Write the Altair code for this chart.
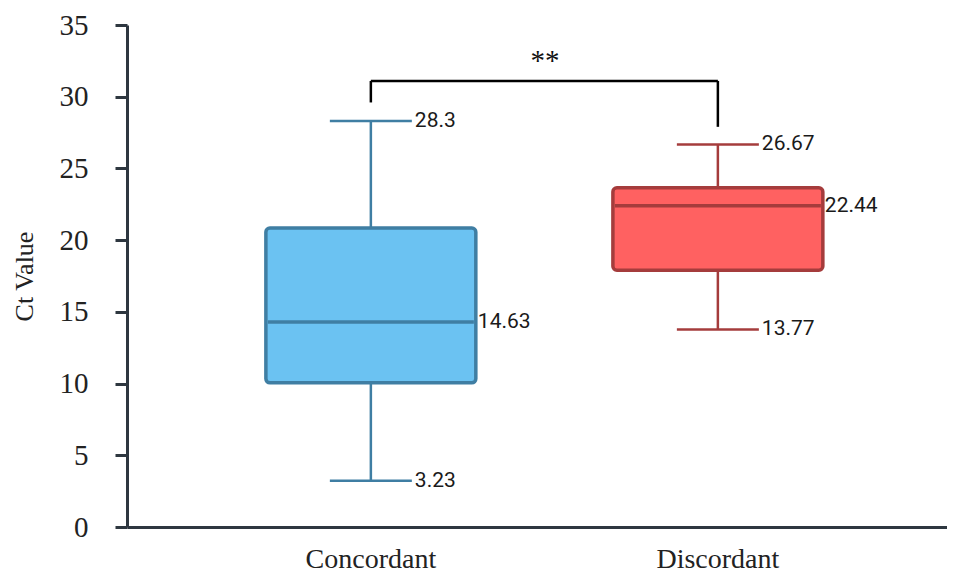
import altair as alt
import pandas as pd

groups = ["Concordant", "Discordant"]
whisker_low = [3.23, 13.77]
q1 = [10.05, 17.9]
median = [14.3, 22.4]
q3 = [20.85, 23.65]
whisker_high = [28.3, 26.67]
median_labels = ["14.63", "22.44"]
low_labels = ["3.23", "13.77"]
high_labels = ["28.3", "26.67"]

bracket_top = 31.1
bracket_drop = [29.6, 27.9]
sig_text = "**"
sig_y = 32.5

fill_colors = ["#6BC2F2", "#FF6161"]
stroke_colors = ["#3F7EA3", "#A53C3C"]

df = pd.DataFrame({
    "group": groups, "low": whisker_low, "q1": q1, "median": median,
    "q3": q3, "high": whisker_high, "mlab": median_labels,
    "llab": low_labels, "hlab": high_labels,
})
drops = pd.DataFrame({"group": groups, "bottom": bracket_drop, "top": [bracket_top] * 2})
hbar = pd.DataFrame({"a": [groups[0]], "b": [groups[1]], "y": [bracket_top]})
sig = pd.DataFrame({"t": [sig_text], "y": [sig_y]})

xscale = alt.Scale(domain=groups, paddingInner=0.395, paddingOuter=0.379, align=0.528)
yscale = alt.Scale(domain=[0, 35], nice=False)
fill_scale = alt.Scale(domain=groups, range=fill_colors)
stroke_scale = alt.Scale(domain=groups, range=stroke_colors)

X = alt.X("group:N", scale=xscale, sort=groups,
          axis=alt.Axis(title=None, labelAngle=0, ticks=False, labelPadding=18,
                        labelFont="Liberation Serif", labelFontSize=28, labelColor="#222222",
                        domainColor="#2E3740", domainWidth=3))
Yaxis = alt.Axis(title="Ct Value", values=[0, 5, 10, 15, 20, 25, 30, 35], grid=False,
                 tickSize=12, tickWidth=3, tickColor="#2E3740", domainColor="#2E3740",
                 domainWidth=3, labelFont="Liberation Serif", labelFontSize=29,
                 labelColor="#222222", labelPadding=27, titleFont="Liberation Serif",
                 titleFontSize=26, titleFontWeight="normal", titleColor="#222222",
                 titlePadding=22)

base = alt.Chart(df)

whisk = base.mark_rule(strokeWidth=2.5).encode(
    x=X, y=alt.Y("low:Q", scale=yscale, axis=Yaxis), y2="high:Q",
    stroke=alt.Stroke("group:N", scale=stroke_scale, legend=None))

caps_low = base.mark_tick(size=82, thickness=2.5, opacity=1).encode(
    x="group:N", y="low:Q", color=alt.Color("group:N", scale=stroke_scale, legend=None))
caps_high = base.mark_tick(size=82, thickness=2.5, opacity=1).encode(
    x="group:N", y="high:Q", color=alt.Color("group:N", scale=stroke_scale, legend=None))

box = base.mark_bar(strokeWidth=3.5, cornerRadius=4).encode(
    x="group:N", y="q1:Q", y2="q3:Q",
    fill=alt.Fill("group:N", scale=fill_scale, legend=None),
    stroke=alt.Stroke("group:N", scale=stroke_scale, legend=None))

med = base.mark_tick(size=206, thickness=3.5, opacity=1).encode(
    x="group:N", y="median:Q", color=alt.Color("group:N", scale=stroke_scale, legend=None))

txt_style = dict(align="left", baseline="middle", font="Roboto", fontSize=21, color="#1a1a1a")
t_high = base.mark_text(dx=44, **txt_style).encode(x="group:N", y="high:Q", text="hlab:N")
t_low = base.mark_text(dx=44, **txt_style).encode(x="group:N", y="low:Q", text="llab:N")
t_med = base.mark_text(dx=107, **txt_style).encode(x="group:N", y="median:Q", text="mlab:N")

br_h = alt.Chart(hbar).mark_rule(strokeWidth=2.5, color="black").encode(
    x="a:N", x2="b:N", y="y:Q")
br_v = alt.Chart(drops).mark_rule(strokeWidth=2.5, color="black").encode(
    x="group:N", y="bottom:Q", y2="top:Q")
star = alt.Chart(sig).mark_text(font="Liberation Serif", fontSize=29, color="#111111",
                                baseline="middle").encode(
    x=alt.value(418), y="y:Q", text="t:N")

chart = alt.layer(whisk, caps_low, caps_high, box, med, t_high, t_low, t_med,
                  br_h, br_v, star).properties(
    width=820, height=502,
    autosize=alt.AutoSizeParams(type="none"),
    padding={"left": 119, "top": 17, "right": 0, "bottom": 45},
).configure_view(stroke=None).configure_axisY(domain=True)

chart.save("out.html", embed_options={"renderer": "svg", "actions": False})
